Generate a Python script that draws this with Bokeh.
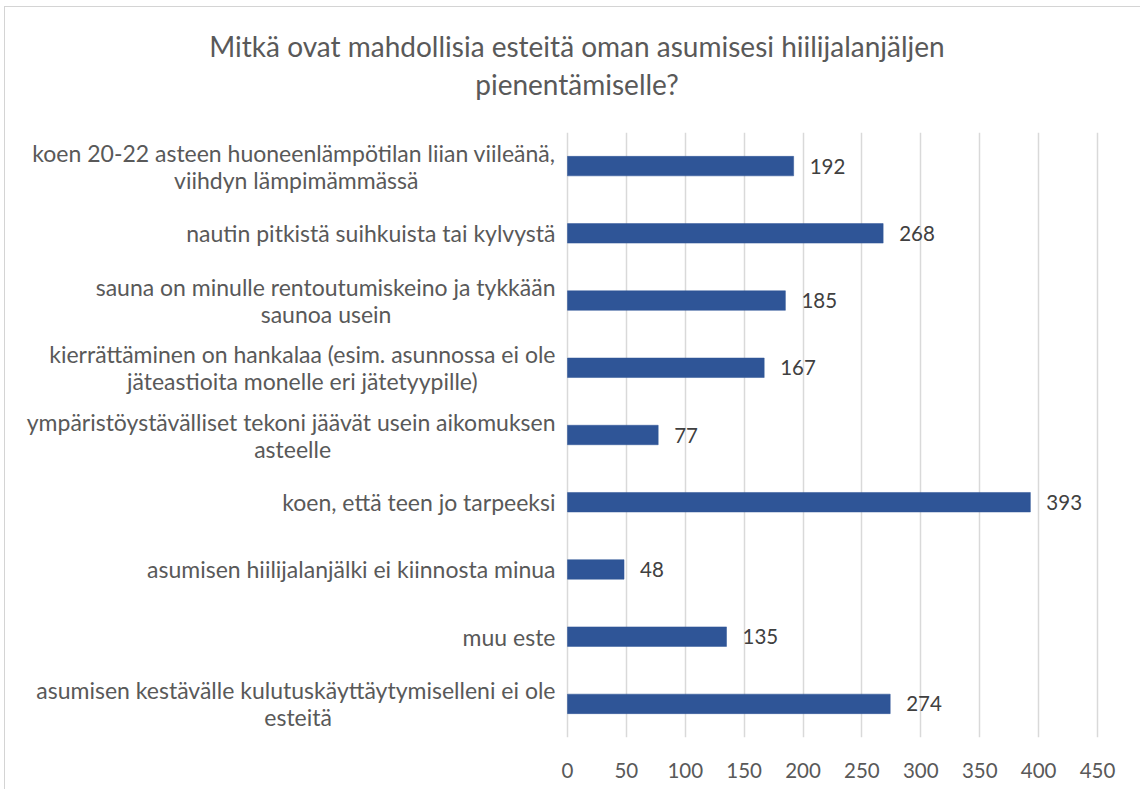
from bokeh.plotting import figure
from bokeh.models import ColumnDataSource, FactorRange, Range1d, FixedTicker, Title
from bokeh.core.properties import value
from bokeh.embed import file_html
from bokeh.resources import INLINE

# ---------------- data ----------------
title_lines = [
    "Mitkä ovat mahdollisia esteitä oman asumisesi hiilijalanjäljen",
    "pienentämiselle?",
]
categories = [
    "koen 20-22 asteen huoneenlämpötilan liian viileänä,\nviihdyn lämpimämmässä",
    "nautin pitkistä suihkuista tai kylvystä",
    "sauna on minulle rentoutumiskeino ja tykkään\nsaunoa usein",
    "kierrättäminen on hankalaa (esim. asunnossa ei ole\njäteastioita monelle eri jätetyypille)",
    "ympäristöystävälliset tekoni jäävät usein aikomuksen\nasteelle",
    "koen, että teen jo tarpeeksi",
    "asumisen hiilijalanjälki ei kiinnosta minua",
    "muu este",
    "asumisen kestävälle kulutuskäyttäytymiselleni ei ole\nesteitä",
]
counts = [192, 268, 185, 167, 77, 393, 48, 135, 274]
x_ticks = [0, 50, 100, 150, 200, 250, 300, 350, 400, 450]

# ---------------- style ----------------
FONT = "Lato"
BAR_COLOR = "#2F5597"
GRID_COLOR = "#d9d9d9"
LABEL_COLOR = "#595959"
VALUE_COLOR = "#404040"
LABEL_SIZE = 23
LINE_H = 27
GAP = 12

W, H = 1136, 783
frame_left_px, frame_right_px = 7, 1136   # inside figure
zero_px, max_px = 562, 1092                # pixels of x = 0 and x = 450
axis_max = x_ticks[-1]
px_per_unit = (max_px - zero_px) / axis_max
x_start = -(zero_px - frame_left_px) / px_per_unit
x_end = (frame_right_px - zero_px) / px_per_unit

p = figure(
    width=W, height=H,
    x_range=Range1d(x_start, x_end),
    y_range=FactorRange(factors=list(reversed(categories))),
    output_backend="svg", toolbar_location=None,
    min_border_left=frame_left_px, min_border_right=W - frame_right_px,
    min_border_top=125, min_border_bottom=H - 730,
    margin=(6, 0, 0, 4),
    styles={"border-top": "1px solid #d4d4d4", "border-left": "1px solid #d4d4d4"},
)
p.outline_line_color = None
p.background_fill_color = "white"
p.border_fill_color = "white"

# bars
src = ColumnDataSource(dict(cat=categories, val=counts, txt=[str(c) for c in counts]))
p.hbar(y="cat", right="val", left=0, height=0.29, source=src,
       fill_color=BAR_COLOR, line_color=BAR_COLOR, line_width=0.5)

# value labels
p.text(x="val", y="cat", text="txt", source=src, x_offset=16,
       text_align="left", text_baseline="middle",
       text_font=value(FONT), text_font_size="20.5px", text_color=VALUE_COLOR)

# category labels (right-aligned block, lines centred within the block)
CW = {" ": 0.26, "i": 0.23, "l": 0.23, "j": 0.23, "t": 0.34, "f": 0.32, "r": 0.36,
      ",": 0.22, ".": 0.22, "-": 0.32, "(": 0.30, ")": 0.30, "m": 0.84, "w": 0.76,
      "s": 0.41, "c": 0.46, "k": 0.50, "v": 0.50, "y": 0.50, "a": 0.51, "ä": 0.51,
      "e": 0.52, "g": 0.50, "z": 0.44}


def est_width(s):
    return sum(CW.get(ch, 0.56) for ch in s) * LABEL_SIZE


r_y, r_t, r_off = [], [], []
c_y, c_t, c_off, c_xoff = [], [], [], []
for cat in categories:
    lines = cat.split("\n")
    n = len(lines)
    wmax = max(est_width(l) for l in lines)
    for k, line in enumerate(lines):
        yoff = (k - (n - 1) / 2) * LINE_H
        if est_width(line) >= wmax:
            r_y.append(cat); r_t.append(line); r_off.append(yoff)
        else:
            c_y.append(cat); c_t.append(line); c_off.append(yoff)
            c_xoff.append(-GAP - wmax / 2)

p.text(x=0, y="y", text="t", y_offset="yo",
       source=ColumnDataSource(dict(y=r_y, t=r_t, yo=r_off)),
       x_offset=-GAP, text_align="right", text_baseline="middle",
       text_font=value(FONT), text_font_size=f"{LABEL_SIZE}px", text_color=LABEL_COLOR)
p.text(x=0, y="y", text="t", y_offset="yo", x_offset="xo",
       source=ColumnDataSource(dict(y=c_y, t=c_t, yo=c_off, xo=c_xoff)),
       text_align="center", text_baseline="middle",
       text_font=value(FONT), text_font_size=f"{LABEL_SIZE}px", text_color=LABEL_COLOR)

# axes & grid
p.yaxis.visible = False
p.ygrid.visible = False
p.xgrid.ticker = FixedTicker(ticks=x_ticks)
p.xgrid.bounds = (x_ticks[0], x_ticks[-1])
p.xgrid.grid_line_color = GRID_COLOR
p.xgrid.grid_line_width = 1.5

xa = p.xaxis[0]
xa.ticker = FixedTicker(ticks=x_ticks)
xa.bounds = (x_ticks[0], x_ticks[-1])
xa.axis_line_color = None
xa.major_tick_line_color = None
xa.minor_tick_line_color = None
xa.major_label_standoff = 19
xa.major_label_text_font = FONT
xa.major_label_text_font_size = "20.5px"
xa.major_label_text_color = LABEL_COLOR

# title (two centred lines) with a spacer between it and the plot
p.add_layout(Title(text=" ", text_font_size="10px", standoff=19), "above")
p.add_layout(Title(text=title_lines[1], align="center", text_font=FONT,
                   text_font_size="28px", text_font_style="normal",
                   text_color=LABEL_COLOR, standoff=0), "above")
p.add_layout(Title(text=title_lines[0], align="center", text_font=FONT,
                   text_font_size="28px", text_font_style="normal",
                   text_color=LABEL_COLOR, standoff=4), "above")

open("out.html", "w").write(file_html(p, INLINE))
